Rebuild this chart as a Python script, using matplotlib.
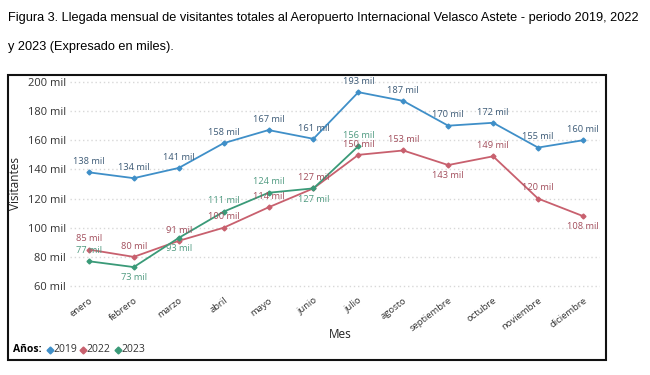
import matplotlib.pyplot as plt
from matplotlib.patches import Rectangle
from matplotlib.lines import Line2D

plt.rcParams['font.family'] = ['Liberation Sans', 'DejaVu Sans']

meses = ['enero', 'febrero', 'marzo', 'abril', 'mayo', 'junio', 'julio',
         'agosto', 'septiembre', 'octubre', 'noviembre', 'diciembre']
v2019 = [138, 134, 141, 158, 167, 161, 193, 187, 170, 172, 155, 160]
v2022 = [85, 80, 91, 100, 114, 127, 150, 153, 143, 149, 120, 108]
v2023 = [77, 73, 93, 111, 124, 127, 156]
yticks = [60, 80, 100, 120, 140, 160, 180, 200]

# label placement: +1 above the point, -1 below
pos2019 = [1] * 12
pos2022 = [1, 1, 1, 1, 1, 1, 1, 1, -1, 1, 1, -1]
pos2023 = [1, -1, -1, 1, 1, -1, 1]

c2019, c2022, c2023 = '#3f8fc8', '#c8606e', '#3a9a78'
t2019, t2022, t2023 = '#3c5a76', '#a24e5c', '#4f9a80'

fig = plt.figure(figsize=(6.5, 3.75), dpi=100)
ax = fig.add_axes([70 / 650, 1 - 290.4 / 375, 530 / 650, (290.4 - 77.6) / 375])

ui = ['Open Sans', 'DejaVu Sans']
series = [(v2019, pos2019, c2019, t2019),
          (v2022, pos2022, c2022, t2022),
          (v2023, pos2023, c2023, t2023)]
for vals, pos, c, tc in series:
    x = list(range(len(vals)))
    ax.plot(x, vals, color=c, lw=1.3, marker='D', ms=2.5, zorder=3)
    for xi, v, p in zip(x, vals, pos):
        ax.annotate(f'{v} mil', (xi, v), xytext=(0, 4.5 * p), textcoords='offset points',
                    ha='center', va='bottom' if p > 0 else 'top', fontsize=6.7,
                    color=tc, family=ui, zorder=4)

ax.set_xlim(-0.42, 11.38)
ax.set_ylim(57, 203)
ax.set_yticks(yticks)
ax.set_yticklabels([f'{t} mil' for t in yticks], fontsize=8, family=ui, color='#333333')
ax.set_xticks(range(12))
ax.set_xticklabels(meses, rotation=37, ha='right', rotation_mode='anchor',
                   fontsize=6.8, family=ui, color='#333333')
ax.tick_params(length=0, pad=4)
ax.tick_params(axis='y', pad=3)
ax.grid(axis='y', color='#d8d8d8', ls=(0, (1, 2)), lw=1)
for s in ax.spines.values():
    s.set_visible(False)
ax.set_ylabel('Visitantes', fontsize=8.5, family=ui, color='#222222', labelpad=4)
fig.text(340 / 650, 1 - 335 / 375, 'Mes', ha='center', va='center', fontsize=8.5,
         family=ui, color='#222222')

# legend row
fig.text(13 / 650, 1 - 350 / 375, 'Años:', ha='left', va='center', fontsize=7.5,
         weight='bold', family=ui)
xs = [50, 83, 118]
for xp, c, name in zip(xs, [c2019, c2022, c2023], ['2019', '2022', '2023']):
    fig.add_artist(Line2D([xp / 650], [1 - 350 / 375], marker='D', ms=3.5, color=c,
                          transform=fig.transFigure))
    fig.text((xp + 3.5) / 650, 1 - 350 / 375, name, ha='left', va='center', fontsize=7.5,
             family=ui, color='#333333')

# frame around chart
fig.add_artist(Rectangle((8 / 650, 1 - 360 / 375), 598 / 650, 285 / 375,
                         transform=fig.transFigure, fill=False, ec='#111111', lw=1.5))

line1 = fig.text(8 / 650, 1 - 18 / 375,
                 'Figura 3. Llegada mensual de visitantes totales al Aeropuerto Internacional Velasco Astete - periodo 2019, 2022',
                 ha='left', va='center', fontsize=10)
line2 = fig.text(8 / 650, 1 - 47 / 375, 'y 2023 (Expresado en miles).',
                 ha='left', va='center', fontsize=10)
# fit the first title line to the page width
r = fig.canvas.get_renderer()
w = line1.get_window_extent(r).width
fs = 10 * 634 / w
line1.set_fontsize(fs)
line2.set_fontsize(fs)

fig.savefig('out.png', dpi=100)
